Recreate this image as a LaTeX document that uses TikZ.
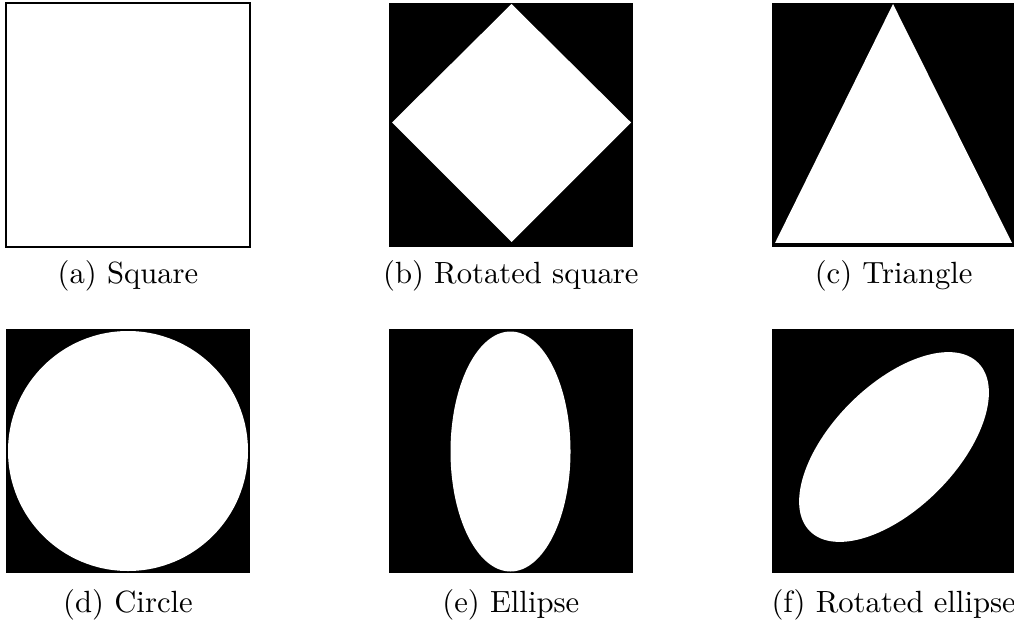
\documentclass[tikz,border=0pt]{standalone}
\usepackage{tikz}
\usetikzlibrary{positioning}

\begin{document}
\begin{tikzpicture}[
  x=0.326pt, y=-0.326pt, node distance=26.7pt and 45.3pt,
  panel/.style={fill=black, inner sep=0pt, outer sep=0pt, minimum width=79.5pt, minimum height=79.7pt},
  plain/.style={panel, fill=white, draw=black, line width=0.65pt},
  sublabel/.style={inner sep=0pt, anchor=base}]
\useasboundingbox (0,0) rectangle (1014,623);
\node[plain] (sq) at (128,124.8) {};
\node[panel, right=of sq] (rsq) {};
\node[panel, right=of rsq] (tri) {};
\node[panel, below=of sq] (circ) {};
\node[panel, below=of rsq] (ell) {};
\node[panel, below=of tri] (rell) {};
\fill[white] (511.5,4) -- (631,122.5) -- (511.5,242) -- (392,122.5) -- cycle;
\fill[white] (893,4) -- (1012,243) -- (775,243) -- cycle;
\fill[white] (128,451) circle[radius=120];
\fill[white] (510.5,451.5) ellipse[x radius=60, y radius=120];
\fill[white, rotate around={45:(894,447)}] (894,447) ellipse[x radius=119, y radius=62];
\node[sublabel] (capa) at ([yshift=-12pt]sq.south) {(a) Square};
\node[sublabel] (capb) at ([yshift=-12pt]rsq.south) {(b) Rotated square};
\node[sublabel] (capc) at ([yshift=-12pt]tri.south) {(c) Triangle};
\node[sublabel] (capd) at ([yshift=-12.6pt]circ.south) {(d) Circle};
\node[sublabel] (cape) at ([yshift=-12.6pt]ell.south) {(e) Ellipse};
\node[sublabel] (capf) at ([yshift=-12.6pt]rell.south) {(f) Rotated ellipse};
\end{tikzpicture}
\end{document}
